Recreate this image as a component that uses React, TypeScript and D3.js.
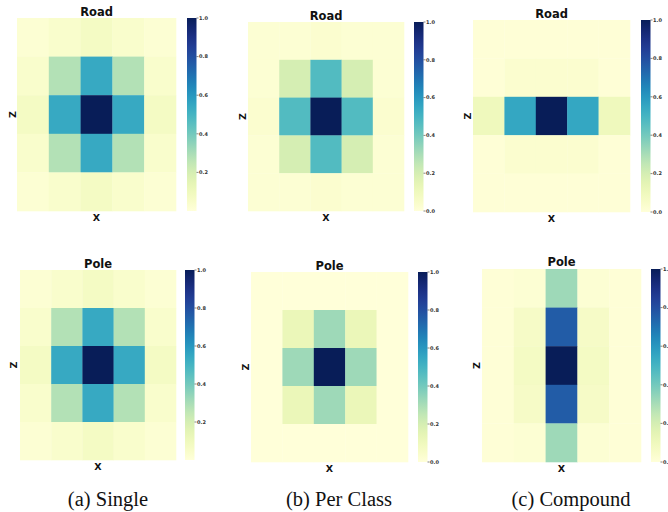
import React from "react";
import * as d3 from "d3";

// ---- data ----
const rows = [0, 1, 2, 3, 4];
const cols = [0, 1, 2, 3, 4];

const roadSingle = [
  [0.02, 0.04, 0.07, 0.04, 0.02],
  [0.04, 0.28, 0.54, 0.28, 0.04],
  [0.07, 0.54, 1.0, 0.54, 0.07],
  [0.04, 0.28, 0.54, 0.28, 0.04],
  [0.02, 0.04, 0.07, 0.04, 0.02],
];
const roadPerClass = [
  [0.02, 0.02, 0.03, 0.02, 0.02],
  [0.02, 0.2, 0.47, 0.2, 0.02],
  [0.03, 0.47, 1.0, 0.47, 0.03],
  [0.02, 0.2, 0.47, 0.2, 0.02],
  [0.02, 0.02, 0.03, 0.02, 0.02],
];
const roadCompound = [
  [0.01, 0.01, 0.01, 0.01, 0.01],
  [0.01, 0.03, 0.03, 0.03, 0.01],
  [0.1, 0.55, 1.0, 0.55, 0.1],
  [0.01, 0.03, 0.03, 0.03, 0.01],
  [0.01, 0.01, 0.01, 0.01, 0.01],
];
const poleSingle = [
  [0.02, 0.04, 0.07, 0.04, 0.02],
  [0.04, 0.28, 0.54, 0.28, 0.04],
  [0.07, 0.54, 1.0, 0.54, 0.07],
  [0.04, 0.28, 0.54, 0.28, 0.04],
  [0.02, 0.04, 0.07, 0.04, 0.02],
];
const polePerClass = [
  [0.0, 0.0, 0.0, 0.0, 0.0],
  [0.0, 0.12, 0.32, 0.12, 0.0],
  [0.0, 0.32, 1.0, 0.32, 0.0],
  [0.0, 0.12, 0.32, 0.12, 0.0],
  [0.0, 0.0, 0.0, 0.0, 0.0],
];
const poleCompound = [
  [0.01, 0.02, 0.32, 0.02, 0.01],
  [0.01, 0.06, 0.76, 0.06, 0.01],
  [0.01, 0.07, 1.0, 0.07, 0.01],
  [0.01, 0.06, 0.76, 0.06, 0.01],
  [0.01, 0.02, 0.32, 0.02, 0.01],
];

const titles = ["Road", "Road", "Road", "Pole", "Pole", "Pole"];
const ticksNoZero = [0.2, 0.4, 0.6, 0.8, 1.0];
const ticksWithZero = [0.0, 0.2, 0.4, 0.6, 0.8, 1.0];
const captions = ["(a) Single", "(b) Per Class", "(c) Compound"];

// ---- layout ----
const panels = [
  { data: roadSingle, title: titles[0], ticks: ticksNoZero, x0: 17, x1: 176, y0: 18, y1: 211, cb: 187, titleY: 16, zx: 12 },
  { data: roadPerClass, title: titles[1], ticks: ticksWithZero, x0: 248, x1: 404, y0: 22, y1: 211, cb: 414, titleY: 20, zx: 242 },
  { data: roadCompound, title: titles[2], ticks: ticksWithZero, x0: 473, x1: 630, y0: 20, y1: 212, cb: 641, titleY: 18, zx: 467 },
  { data: poleSingle, title: titles[3], ticks: ticksNoZero, x0: 20, x1: 176, y0: 270, y1: 460, cb: 185, titleY: 268, zx: 13 },
  { data: polePerClass, title: titles[4], ticks: ticksWithZero, x0: 251, x1: 408, y0: 272, y1: 462, cb: 418, titleY: 270, zx: 245 },
  { data: poleCompound, title: titles[5], ticks: ticksWithZero, x0: 482, x1: 641, y0: 269, y1: 462, cb: 651, titleY: 266, zx: 476 },
];
const captionX = [108, 339, 571];

const color = d3.scaleSequential(d3.interpolateYlGnBu).domain([0, 1]);
const gradStops = d3.range(0, 1.0001, 0.05);

function Panel({ p }: { p: any }) {
  const x = d3.scaleBand<number>().domain(cols).range([p.x0, p.x1]);
  const y = d3.scaleBand<number>().domain(rows).range([p.y0, p.y1]);
  const cy = d3.scaleLinear().domain([0, 1]).range([p.y1, p.y0]);
  const cx = (p.x0 + p.x1) / 2;
  const cbw = 9.5;
  return (
    <g>
      {p.data.map((row: number[], r: number) =>
        row.map((v: number, c: number) => (
          <rect key={`${r}-${c}`} x={x(c)} y={y(r)} width={x.bandwidth() + 0.3} height={y.bandwidth() + 0.3} fill={color(v)} />
        ))
      )}
      <text x={cx} y={p.titleY} textAnchor="middle" fontFamily="DejaVu Sans" fontWeight="bold" fontSize={11.5} fill="#111">
        {p.title}
      </text>
      <text x={cx} y={p.y1 + 10} textAnchor="middle" fontFamily="DejaVu Sans" fontWeight="bold" fontSize={9.5} fill="#111">
        X
      </text>
      <text transform={`translate(${p.zx + 3.5},${(p.y0 + p.y1) / 2}) rotate(-90)`} textAnchor="middle" fontFamily="DejaVu Sans" fontWeight="bold" fontSize={9.5} fill="#111">
        Z
      </text>
      <rect x={p.cb} y={p.y0} width={cbw} height={p.y1 - p.y0} fill={`url(#cbgrad)`} />
      {p.ticks.map((t: number) => (
        <g key={t}>
          <line x1={p.cb + cbw} x2={p.cb + cbw + 2} y1={cy(t)} y2={cy(t)} stroke="#333" strokeWidth={0.6} />
          <text x={p.cb + cbw + 2.5} y={cy(t) + 1.8} fontFamily="DejaVu Sans" fontWeight="bold" fontSize={5} fill="#333">
            {d3.format(".1f")(t)}
          </text>
        </g>
      ))}
    </g>
  );
}

export default function App() {
  return (
    <svg width={668} height={512} style={{ position: "absolute", left: 0, top: 0, background: "#fff" }}>
      <defs>
        <linearGradient id="cbgrad" x1="0" y1="1" x2="0" y2="0">
          {gradStops.map((s) => (
            <stop key={s} offset={s} stopColor={color(s)} />
          ))}
        </linearGradient>
      </defs>
      <rect width={668} height={512} fill="#fff" />
      {panels.map((p, i) => (
        <Panel key={i} p={p} />
      ))}
      {captions.map((c, i) => (
        <text key={c} x={captionX[i]} y={506} textAnchor="middle" fontFamily="Liberation Serif" fontSize={20.5} fill="#111">
          {c}
        </text>
      ))}
    </svg>
  );
}
